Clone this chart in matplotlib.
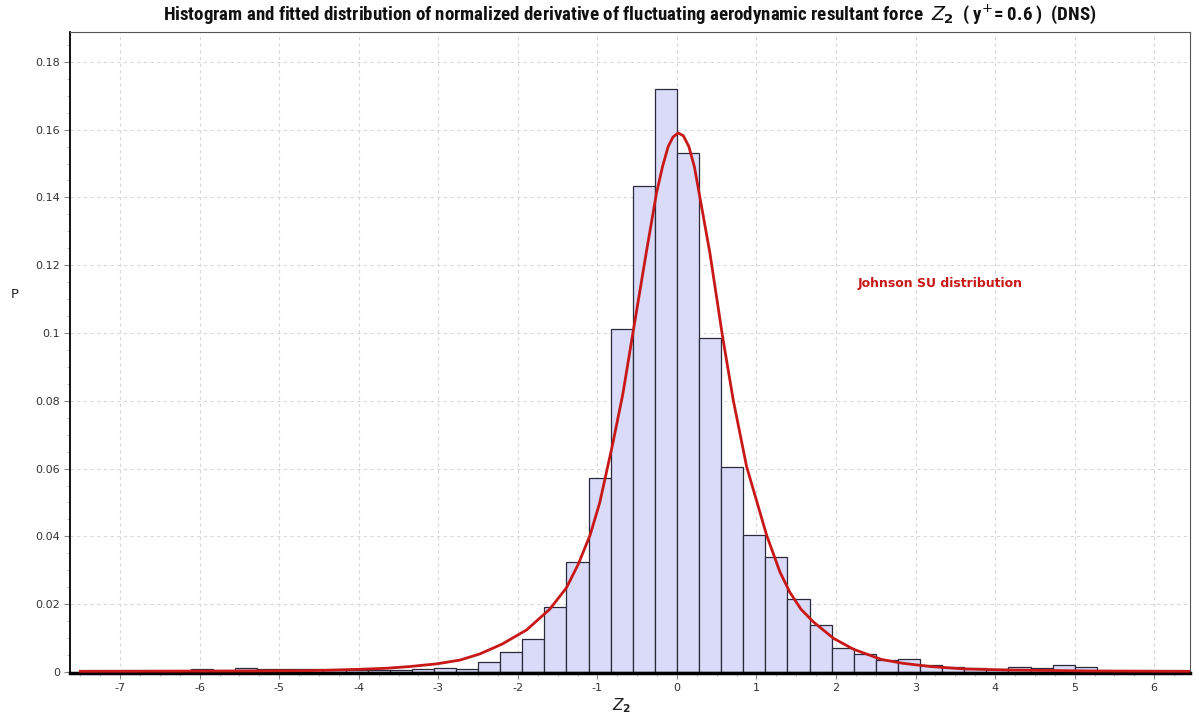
import numpy as np
import matplotlib
matplotlib.use("Agg")
import matplotlib.pyplot as plt
from matplotlib import font_manager
from matplotlib.ticker import FixedLocator, MultipleLocator

plt.rcParams["axes.unicode_minus"] = False

# ---------------- data ----------------
bin_start = -7.5
bin_width = 0.2778
bin_density = [
    0.0004, 0.0004, 0.0003, 0.0003, 0.0003, 0.0009, 0.0004, 0.0013,
    0.0008, 0.0008, 0.0008, 0.0005, 0.0006, 0.0005, 0.0007, 0.0008,
    0.0012, 0.0008, 0.0030, 0.0059, 0.0096, 0.0193, 0.0324, 0.0573,
    0.1011, 0.1434, 0.1720, 0.1532, 0.0984, 0.0606, 0.0404, 0.0338,
    0.0214, 0.0139, 0.0070, 0.0054, 0.0036, 0.0037, 0.0020, 0.0015,
    0.0013, 0.0010, 0.0015, 0.0013, 0.0020, 0.0015,
]

curve_x = [-7.5, -5.46, -4.61, -3.98, -3.65, -3.36, -3.02, -2.73, -2.48, -2.2,
           -1.89, -1.60, -1.39, -1.24, -1.09, -0.97, -0.81, -0.68, -0.54, -0.38,
           -0.255, -0.18, -0.11, -0.05, 0.016, 0.08, 0.15, 0.22, 0.289, 0.415,
           0.574, 0.708, 0.876, 1.127, 1.295, 1.42, 1.56, 1.714, 1.97, 2.22,
           2.57, 2.83, 3.19, 3.61, 4.13, 5.17, 6.45]
curve_y = [0.0002, 0.0003, 0.0004, 0.0008, 0.0011, 0.0016, 0.0024, 0.0035, 0.0053, 0.0082,
           0.0124, 0.0185, 0.0248, 0.0318, 0.0405, 0.0500, 0.0670, 0.0820, 0.1019, 0.1245,
           0.1415, 0.1492, 0.1550, 0.1578, 0.1590, 0.1582, 0.1550, 0.1490, 0.1400, 0.1235,
           0.0989, 0.0802, 0.0606, 0.0404, 0.0295, 0.0235, 0.0185, 0.0148, 0.0099, 0.0067,
           0.0037, 0.0026, 0.0016, 0.0009, 0.0006, 0.0003, 0.0002]

x_ticks = [-7, -6, -5, -4, -3, -2, -1, 0, 1, 2, 3, 4, 5, 6]
y_ticks = [0, 0.02, 0.04, 0.06, 0.08, 0.10, 0.12, 0.14, 0.16, 0.18]
y_tick_labels = ["0", "0.02", "0.04", "0.06", "0.08", "0.1", "0.12", "0.14", "0.16", "0.18"]

title_text = (r"Histogram and fitted distribution of normalized derivative of fluctuating "
              r"aerodynamic resultant force  $Z_\mathbf{2}$  ( y$^{+}$= 0.6 )  (DNS)")
curve_label = "Johnson SU distribution"

# ---------------- fonts ----------------
available = {f.name for f in font_manager.fontManager.ttflist}
narrow = [n for n in ["Liberation Sans Narrow", "DejaVu Sans Condensed", "Roboto Condensed",
                      "Open Sans Condensed"] if n in available]
title_family = narrow[:1] + ["DejaVu Sans"]
title_size = 13.6 if narrow else 9.5

# ---------------- figure ----------------
W, H, DPI = 1199, 726, 100
fig = plt.figure(figsize=(W / DPI, H / DPI), dpi=DPI, facecolor="white")
ax = fig.add_axes([70 / W, 1 - 673 / H, 1120 / W, (673 - 32) / H])
ax.set_facecolor("white")

edges = bin_start + bin_width * np.arange(len(bin_density))
ax.bar(edges, bin_density, width=bin_width, align="edge",
       color="#d9dbf9", edgecolor="#2a2a3a", linewidth=0.9, zorder=2)

ax.plot(curve_x, curve_y, color="#c81818", linewidth=2.0, zorder=3,
        solid_joinstyle="round")

ax.set_xlim(-7.63, 6.45)
ax.set_ylim(-0.0003, 0.1888)

ax.xaxis.set_major_locator(FixedLocator(x_ticks))
ax.xaxis.set_minor_locator(MultipleLocator(0.25))
ax.yaxis.set_major_locator(FixedLocator(y_ticks))
ax.yaxis.set_minor_locator(MultipleLocator(0.005))
ax.set_yticklabels(y_tick_labels)

ax.tick_params(axis="both", which="major", direction="out", length=4, width=0.8,
               color="#888888", labelsize=8, labelcolor="#333333", pad=3)
ax.tick_params(axis="both", which="minor", direction="out", length=2, width=0.6,
               color="#aaaaaa")

ax.grid(True, which="major", color="#d8d8d8", linestyle=(0, (3, 3)), linewidth=0.8, zorder=0)
ax.set_axisbelow(True)

for side in ("top", "right"):
    ax.spines[side].set_color("#555555")
    ax.spines[side].set_linewidth(0.8)
ax.spines["left"].set_color("black")
ax.spines["left"].set_linewidth(1.3)
ax.spines["bottom"].set_color("black")
ax.spines["bottom"].set_linewidth(2.5)

ax.text(2.275, 0.1145, curve_label, color="#c81818", fontsize=9, fontweight="bold",
        va="center", ha="left", family=["DejaVu Sans"])

fig.text(15 / W, 1 - 295 / H, "P", fontsize=9.5, color="#222222", ha="center", va="center")
fig.text(622 / W, 1 - 706 / H, r"$Z_\mathbf{2}$", fontsize=11, color="#222222",
         ha="center", va="center")

fig.text(630 / W, 1 - 14 / H, title_text, fontsize=title_size, fontweight="bold",
         ha="center", va="center", color="#111111", family=title_family)

fig.savefig("out.png", dpi=DPI, facecolor="white")
